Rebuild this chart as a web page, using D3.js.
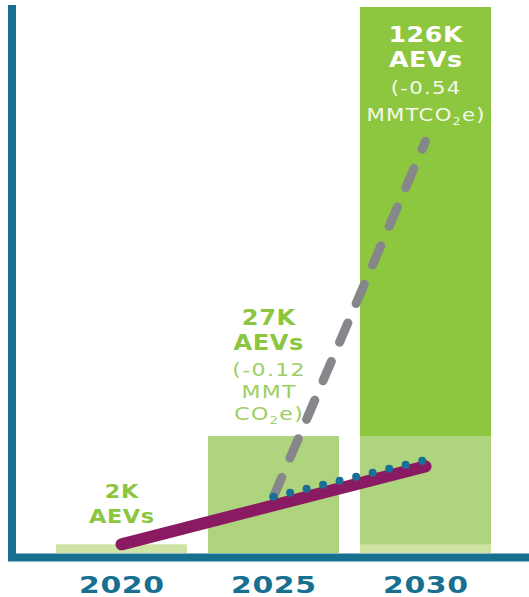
<!DOCTYPE html>
<html>
<head>
<meta charset="utf-8">
<script src="https://cdn.jsdelivr.net/npm/d3@7"></script>
<style>
  html, body { margin: 0; padding: 0; background: #fff; }
  svg { display: block; }
</style>
</head>
<body>
<script>
// basic setup
const width = 529;
const height = 597;

// data (AEVs in thousands)
const years = ["2020", "2025", "2030"];
const aevs = [2, 27, 126];
const aevLabels = ["2K", "27K", "126K"];
const co2Labels = [[], ["(-0.12", "MMT", "CO₂e)"], ["(-0.54", "MMTCO₂e)"]];

// trend lines (thousands of AEVs)
const trendYears = [2020, 2030];
const trendValues = [2, 20];
const dotYears = [2025, 2030];
const dotValues = [13, 21.5];
const dashYears = [2025, 2030];
const dashValues = [13, 95];

const teal = "#17708f";
const barColors = ["#cfe3a2", "#afd47e", "#8dc63f"];

const svg = d3.select("body").append("svg")
  .attr("width", width)
  .attr("height", height);

const x = d3.scaleBand()
  .domain(years)
  .range([56, 491])
  .paddingInner(0.138)
  .paddingOuter(0);

const y = d3.scaleLinear()
  .domain([0, 126])
  .range([553, 7]);

const xc = d => x(d) + x.bandwidth() / 2;
const xYear = d3.scaleLinear()
  .domain([2020, 2030])
  .range([xc("2020"), xc("2030")]);

// bars: last bar shows the earlier years as lighter layers
const layers = [];
years.forEach((yr, i) => {
  const idx = i === years.length - 1 ? d3.range(i, -1, -1) : [i];
  idx.forEach(j => layers.push({ year: yr, value: aevs[j], src: j }));
});

svg.append("g").selectAll("rect")
  .data(layers)
  .join("rect")
  .attr("x", d => x(d.year))
  .attr("width", x.bandwidth())
  .attr("y", d => y(d.value))
  .attr("height", d => y(0) - y(d.value))
  .attr("fill", d => barColors[d.src]);

// axes
svg.append("line")
  .attr("x1", 12).attr("x2", 12)
  .attr("y1", 5).attr("y2", 561)
  .attr("stroke", teal).attr("stroke-width", 8);
svg.append("line")
  .attr("x1", 8).attr("x2", width)
  .attr("y1", 557.5).attr("y2", 557.5)
  .attr("stroke", teal).attr("stroke-width", 8);

const line = d3.line().x(d => xYear(d[0])).y(d => y(d[1]));

// grey dashed line
svg.append("path")
  .attr("d", line(d3.zip(dashYears, dashValues)))
  .attr("fill", "none")
  .attr("stroke", "#85878a")
  .attr("stroke-width", 9)
  .attr("stroke-linecap", "round")
  .attr("stroke-dasharray", "21,21");

// purple trend
svg.append("path")
  .attr("d", line(d3.zip(trendYears, trendValues)))
  .attr("fill", "none")
  .attr("stroke", "#8a1b62")
  .attr("stroke-width", 12)
  .attr("stroke-linecap", "round");

// blue dotted
svg.append("path")
  .attr("d", line(d3.zip(dotYears, dotValues)))
  .attr("fill", "none")
  .attr("stroke", "#1a6f96")
  .attr("stroke-width", 8)
  .attr("stroke-linecap", "round")
  .attr("stroke-dasharray", "0,17");

// writes one line of text, stretched wide; ₂ becomes a small subscript 2
function addLine(g, str, cx, by, o) {
  const t = g.append("text")
    .attr("transform", `translate(${cx},${by}) scale(${o.sx},1)`)
    .attr("x", o.ls / 2)
    .attr("text-anchor", "middle")
    .attr("font-family", "DejaVu Sans")
    .attr("font-weight", o.bold ? "bold" : "normal")
    .attr("font-size", o.size)
    .attr("letter-spacing", o.ls)
    .attr("fill", o.color);
  let shift = 0;
  str.split(/(₂)/).forEach(part => {
    if (part === "₂") {
      t.append("tspan").attr("font-size", o.size * 0.6).attr("dy", 4).text("2");
      shift = -4;
    } else if (part) {
      t.append("tspan").attr("dy", shift).text(part);
      shift = 0;
    }
  });
}

// year labels
const yearStyle = { bold: true, size: 23, ls: 0.5, sx: 1.3, color: teal };
years.forEach(d => addLine(svg, d, xc(d), 593, yearStyle));

const labels = svg.append("g");

// 2020 label above bar
{
  const cx = xc("2020");
  const b = y(aevs[0]);
  const o = { bold: true, size: 20, ls: 0.5, sx: 1.12, color: "#8cc63f" };
  addLine(labels, aevLabels[0], cx, b - 46, o);
  addLine(labels, "AEVs", cx, b - 21, o);
}

// 2025 label above bar
{
  const cx = xc("2025") - 5;
  const b = y(aevs[1]);
  const o = { bold: true, size: 21, ls: 0.5, sx: 1.15, color: "#8cc63f" };
  const s = { bold: false, size: 17, ls: 1, sx: 1.3, color: "#9dcf62" };
  addLine(labels, aevLabels[1], cx, b - 111, o);
  addLine(labels, "AEVs", cx, b - 86, o);
  co2Labels[1].forEach((str, i) => addLine(labels, str, cx, b - 60 + i * 22, s));
}

// 2030 label inside bar
{
  const cx = xc("2030");
  const t = y(aevs[2]);
  const o = { bold: true, size: 22, ls: 0.5, sx: 1.15, color: "#ffffff" };
  const s = { bold: false, size: 17, ls: 1, sx: 1.25, color: "#f4f9ec" };
  addLine(labels, aevLabels[2], cx, t + 35, o);
  addLine(labels, "AEVs", cx, t + 60, o);
  co2Labels[2].forEach((str, i) => addLine(labels, str, cx, t + 87 + i * 27, s));
}
</script>
</body>
</html>
